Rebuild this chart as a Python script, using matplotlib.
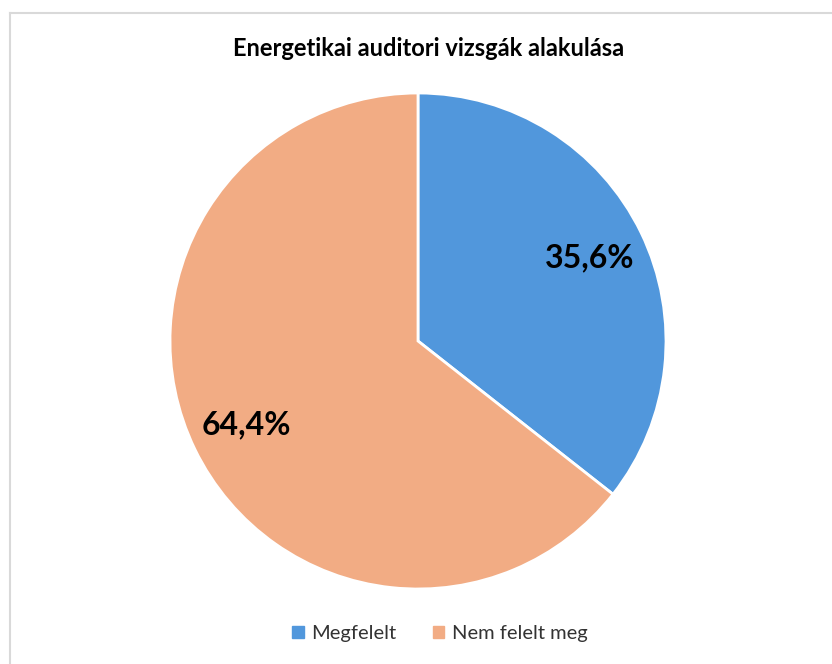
import matplotlib.pyplot as plt
from matplotlib.lines import Line2D

# Data
labels = ["Megfelelt", "Nem felelt meg"]
values = [35.6, 64.4]
colors = ["#5197DC", "#F2AC84"]
title = "Energetikai auditori vizsgák alakulása"

plt.rcParams['font.family'] = ['Lato', 'DejaVu Sans']

W, H = 832, 664
fig = plt.figure(figsize=(W / 100, H / 100), dpi=100)

# light gray frame (top and left visible)
fig.add_artist(Line2D([9.5 / W, 1], [1 - 12.5 / H] * 2, color="#D9D9D9", lw=1.5))
fig.add_artist(Line2D([9.5 / W] * 2, [0, 1 - 12.5 / H], color="#D9D9D9", lw=1.5))

cx, cy, r = 418, 341, 248
ax = fig.add_axes([(cx - r) / W, (H - cy - r) / H, 2 * r / W, 2 * r / H])
wedges, texts, autotexts = ax.pie(
    values, colors=colors, startangle=90, counterclock=False,
    autopct=lambda p: f"{p:.1f}%".replace(".", ","), pctdistance=0.77,
    wedgeprops=dict(edgecolor="white", linewidth=2),
    textprops=dict(fontsize=23, fontweight="bold", color="black"),
)
ax.set_xlim(-1, 1)
ax.set_ylim(-1, 1)
ax.set_aspect("equal")
ax.axis("off")

fig.text(0.515, 1 - 48 / H, title, ha="center", va="center",
         fontsize=17, fontweight="bold")

handles = [plt.Rectangle((0, 0), 1, 1, color=c) for c in colors]
fig.legend(handles, labels, loc="center", bbox_to_anchor=(0.529, 1 - 634 / H),
           ncol=2, frameon=False, fontsize=14.5, handlelength=0.55, handleheight=0.55,
           handletextpad=0.4, columnspacing=1.8, labelcolor="#333333")

fig.savefig("out.png", dpi=100, facecolor="white")
